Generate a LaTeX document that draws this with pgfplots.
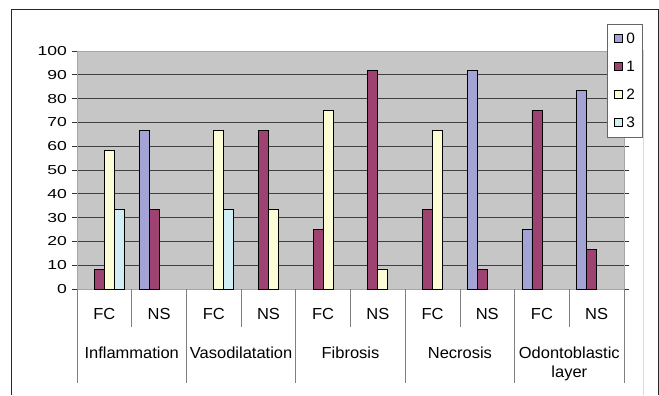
\documentclass[border=0pt]{standalone}
\usepackage{pgfplots}
\pgfplotsset{compat=1.18}
\usepackage{fontspec}
\setmainfont{Liberation Sans}[FakeStretch=1.35]
\newfontfamily\xfam{Liberation Sans}[FakeStretch=1.03]
\definecolor{cA}{HTML}{A3A3D6}
\definecolor{cB}{HTML}{9E4272}
\definecolor{cC}{HTML}{FDFDD5}
\definecolor{cD}{HTML}{D2EEF5}
\definecolor{plotgray}{HTML}{C6C6C6}
\newcommand{\lf}{\fontsize{13bp}{15bp}\selectfont}
\newcommand{\xf}{\xfam\fontsize{16bp}{18bp}\selectfont}
\newcommand{\gf}{\xfam\fontsize{15bp}{17bp}\selectfont}
\begin{document}
\begin{tikzpicture}
\begin{axis}[
  at={(0bp,0bp)}, anchor=south west,
  width=547bp, height=238bp, scale only axis,
  xmin=-0.5, xmax=9.5, ymin=0, ymax=100,
  ybar=0pt, bar width=10bp,
  axis background/.style={fill=plotgray},
  axis line style={draw=gray!70},
  ymajorgrids, grid style={draw=black!75, line width=0.8pt},
  ytick={0,10,...,100},
  xtick={0,...,9},
  xticklabels={FC,NS,FC,NS,FC,NS,FC,NS,FC,NS},
  tick align=outside,
  major tick length=5bp,
  xtick style={draw=none},
  ytick style={draw=black!80, line width=0.8pt},
  yticklabel style={font=\lf, anchor=east, inner sep=0pt, xshift=-5bp},
  xticklabel style={font=\xf, anchor=base, inner sep=0pt, yshift=-25bp},
  /pgf/number format/assume math mode=true,
  clip=false,
  every axis plot/.append style={draw=black, line width=0.8pt},
  legend style={at={(1.033,1.113)}, anchor=north east, draw=black!60, fill=white,
    font=\gf, inner xsep=7bp, inner ysep=8.5bp, row sep=16bp,
    nodes={inner sep=0pt},
    /tikz/every odd column/.style={column sep=3bp}},
  legend image code/.code={\draw[#1] (0bp,-4bp) rectangle (8bp,4bp);},
  legend cell align=left,
]
\addplot[fill=cA] coordinates {(1,66.7) (7,91.7) (8,25) (9,83.3)};
\addplot[fill=cB] coordinates {(0,8.3) (1,33.3) (3,66.7) (4,25) (5,91.7) (6,33.3) (7,8.3) (8,75) (9,16.7)};
\addplot[fill=cC] coordinates {(0,58.3) (2,66.7) (3,33.3) (4,75) (5,8.3) (6,66.7)};
\addplot[fill=cD] coordinates {(0,33.3) (2,33.3)};
\legend{0,1,2,3}
\draw[gray, line width=0.8pt] (axis cs:0.5,0) -- ++(0bp,-38bp);
\draw[gray, line width=0.8pt] (axis cs:2.5,0) -- ++(0bp,-38bp);
\draw[gray, line width=0.8pt] (axis cs:4.5,0) -- ++(0bp,-38bp);
\draw[gray, line width=0.8pt] (axis cs:6.5,0) -- ++(0bp,-38bp);
\draw[gray, line width=0.8pt] (axis cs:8.5,0) -- ++(0bp,-38bp);
\draw[gray, line width=0.8pt] (axis cs:-0.5,0) -- ++(0bp,-94bp);
\draw[gray, line width=0.8pt] (axis cs:1.5,0) -- ++(0bp,-94bp);
\draw[gray, line width=0.8pt] (axis cs:3.5,0) -- ++(0bp,-94bp);
\draw[gray, line width=0.8pt] (axis cs:5.5,0) -- ++(0bp,-94bp);
\draw[gray, line width=0.8pt] (axis cs:7.5,0) -- ++(0bp,-94bp);
\draw[gray, line width=0.8pt] (axis cs:9.5,0) -- ++(0bp,-94bp);
\path (axis cs:0.5,0) node[anchor=base, yshift=-69bp, font=\xf] {Inflammation};
\path (axis cs:2.5,0) node[anchor=base, yshift=-69bp, font=\xf] {Vasodilatation};
\path (axis cs:4.5,0) node[anchor=base, yshift=-69bp, font=\xf] {Fibrosis};
\path (axis cs:6.5,0) node[anchor=base, yshift=-69bp, font=\xf] {Necrosis};
\path (axis cs:8.5,0) node[anchor=base, yshift=-69bp, font=\xf] {Odontoblastic};
\path (axis cs:8.5,0) node[anchor=base, yshift=-88bp, font=\xf] {layer};
\end{axis}
\draw[black!85, line width=1bp] (-65bp,-106bp) -- (-65bp,279bp) -- (581bp,279bp) -- (581bp,-106bp);
\draw[black!15, line width=0.8bp] (566bp,239bp) -- (566bp,-106bp);
\path[use as bounding box] (-77bp,-106bp) rectangle (582bp,289bp);
\end{tikzpicture}
\end{document}
